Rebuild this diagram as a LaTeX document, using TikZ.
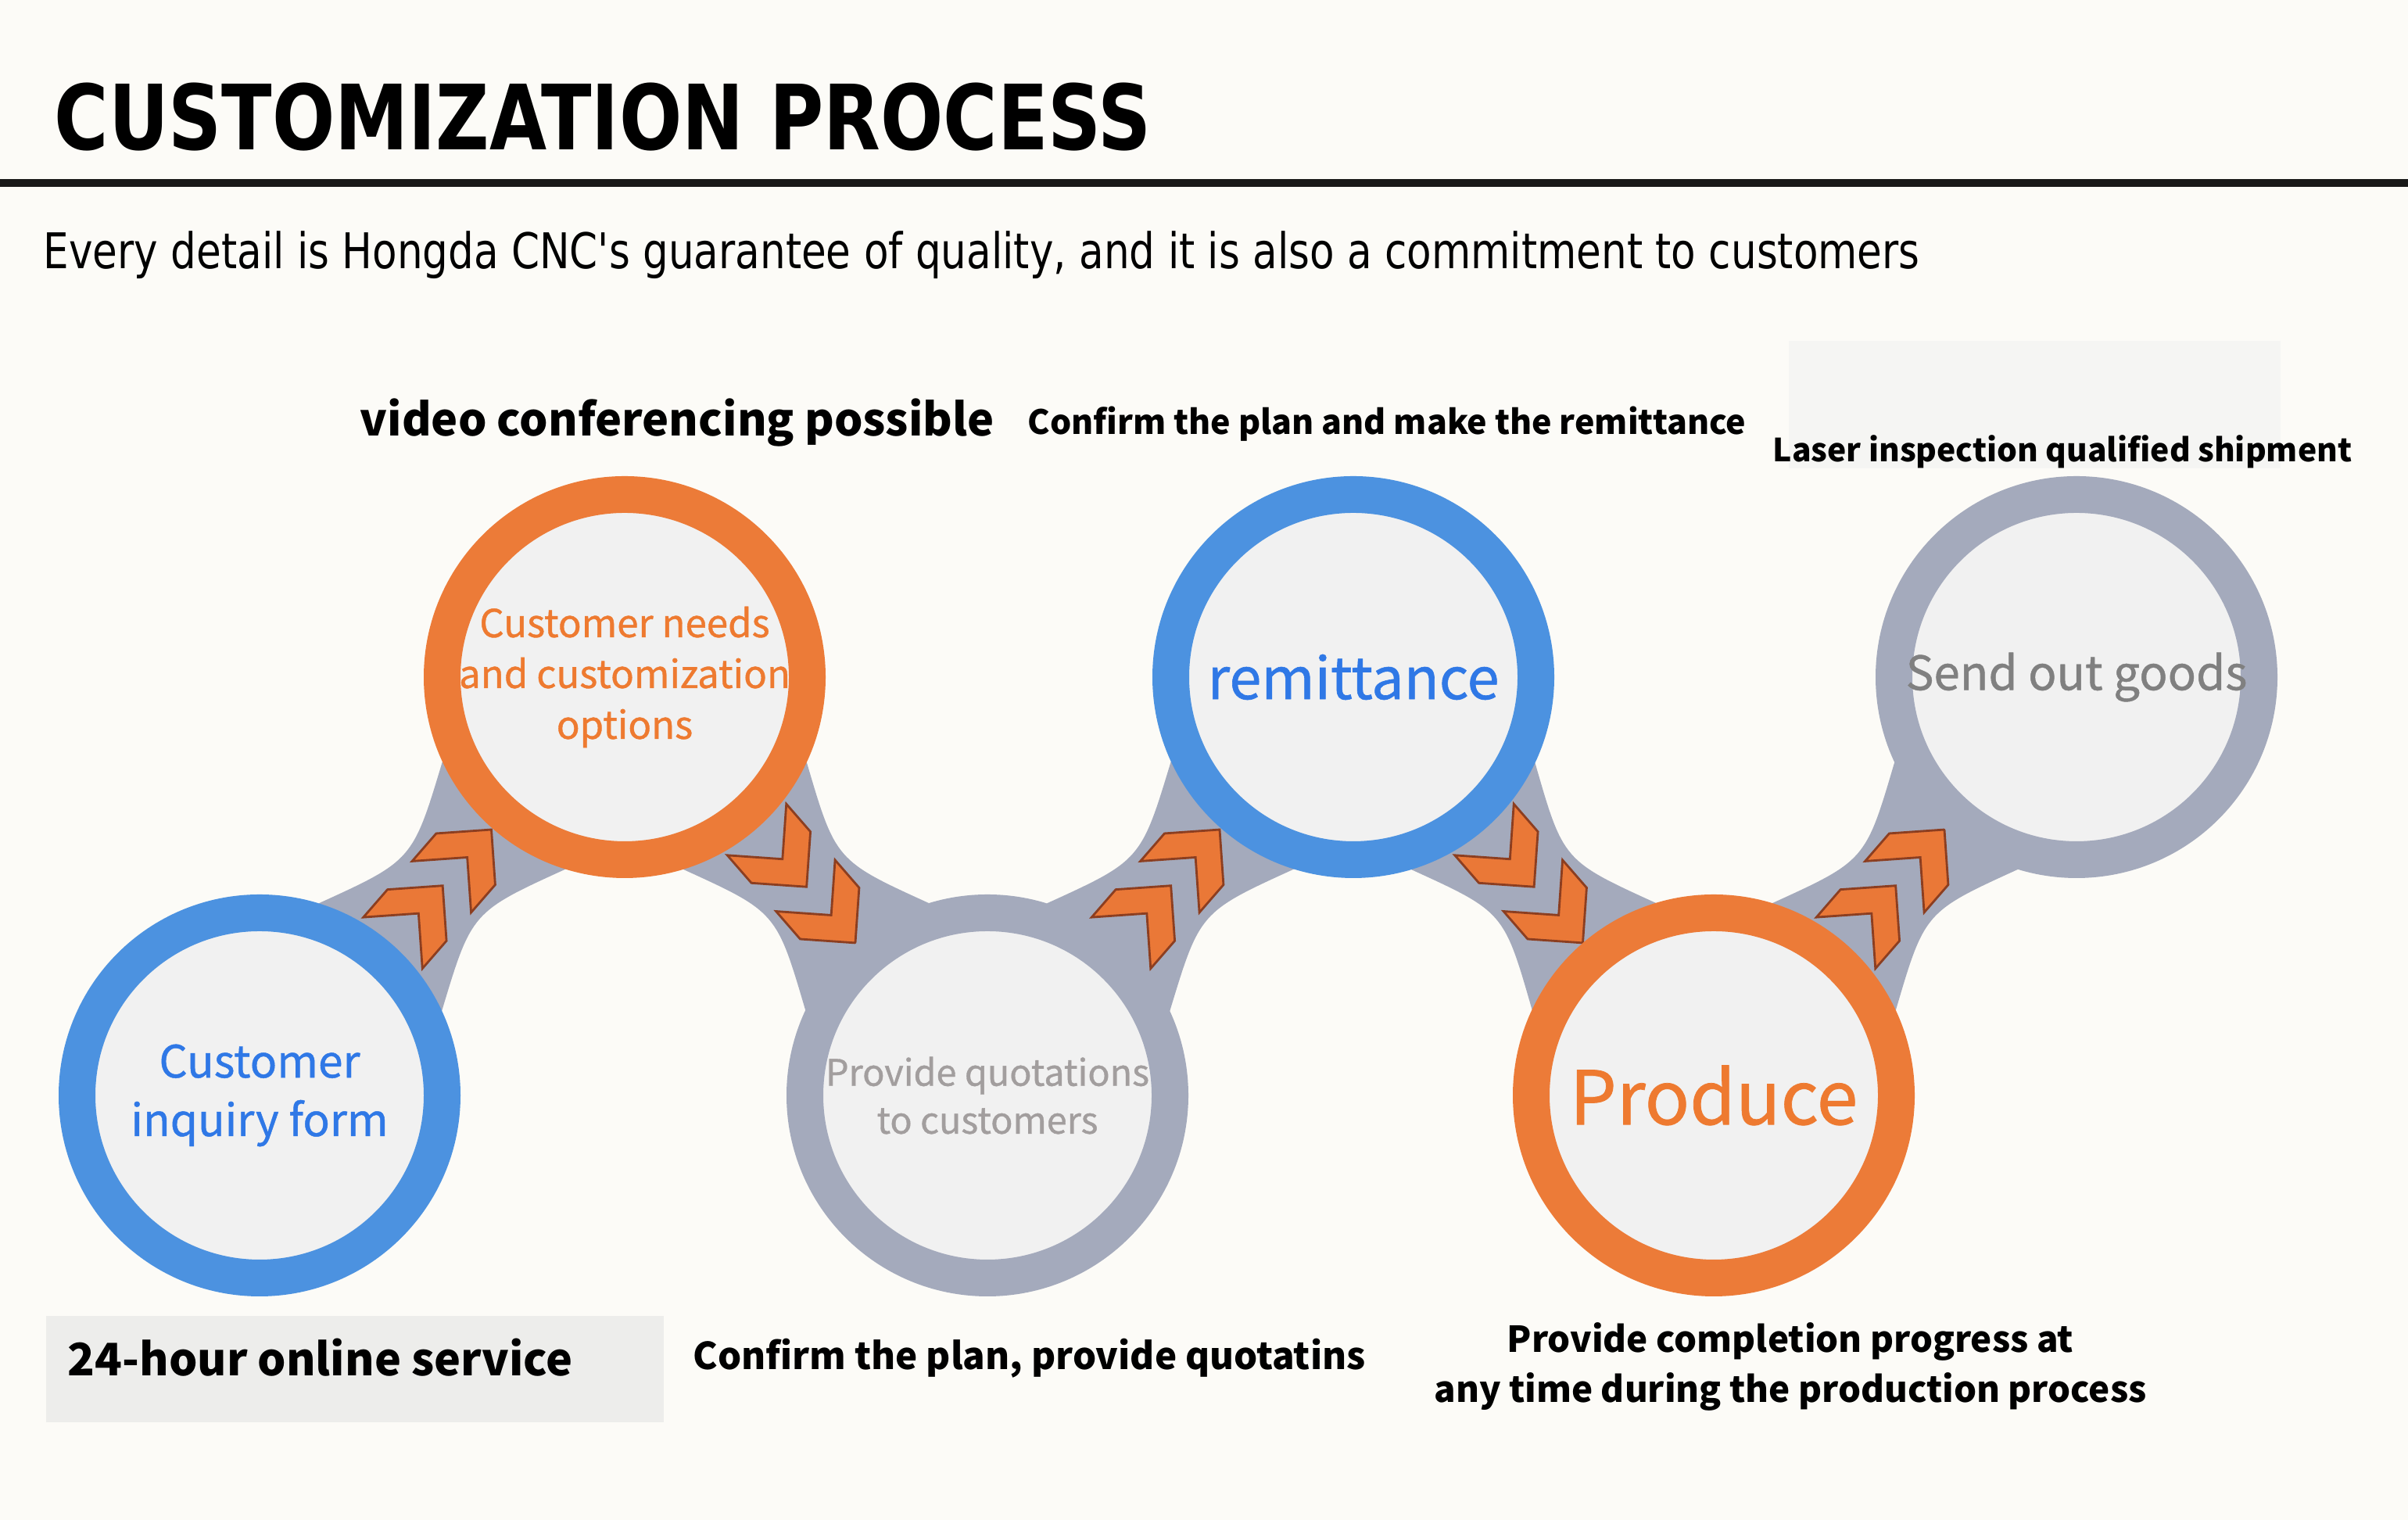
\documentclass[tikz,border=0pt]{standalone}
\usepackage{fontspec}
\setmainfont{Noto Sans CJK SC}
\newfontfamily\headfont{DejaVu Sans}[FakeStretch=0.82]
\newfontfamily\stagefont{Noto Sans CJK SC}[FakeBold=0.8]
\usetikzlibrary{calc}

\definecolor{bgC}{RGB}{252,251,247}
\definecolor{boxC}{RGB}{237,237,235}
\definecolor{faintC}{RGB}{245,245,243}
\definecolor{innerC}{RGB}{241,241,241}
\definecolor{neckC}{RGB}{164,170,188}
\definecolor{blueC}{RGB}{76,146,224}
\definecolor{orangeC}{RGB}{236,123,56}
\definecolor{grayC}{RGB}{164,170,188}
\definecolor{blueT}{RGB}{47,120,230}
\definecolor{orangeT}{RGB}{238,122,48}
\definecolor{grayT}{RGB}{162,158,158}
\definecolor{darkT}{RGB}{128,128,128}
\definecolor{chevC}{RGB}{234,120,55}
\definecolor{chevD}{RGB}{140,62,32}

\pgfdeclarelayer{back}
\pgfsetlayers{back,main}

\begin{document}
\begin{tikzpicture}[
    stage/.style={circle, minimum size=4.67cm, line width=0.47cm,
                  fill=innerC, align=center, inner sep=0pt},
    note/.style={anchor=base west, inner sep=0pt},
    chevpart/.style={fill=chevC, draw=chevD, line width=0.8pt},
    pics/chevrons/.style={code={
      \foreach \x in {0.96,0.01}
        \filldraw[chevpart] (\x,0) -- ++(-0.5,0.5) -- ++(-0.47,0) -- ++(0.5,-0.5)
          -- ++(-0.5,-0.5) -- ++(0.47,0) -- cycle;
    }}
  ]
  \useasboundingbox (0,0) rectangle (30.8,19.44);

  % Stages
  \node[stage, draw=blueC, text=blueT, font=\stagefont\fontsize{16.2}{21.3}\selectfont]
    (s1) at (3.32,5.43) {Customer\\inquiry form};
  \node[stage, draw=orangeC, text=orangeT, font=\stagefont\fontsize{14}{18.5}\selectfont]
    (s2) at (7.99,10.78) {Customer needs\\and customization\\options};
  \node[stage, draw=grayC, text=grayT, font=\stagefont\fontsize{13.3}{17.4}\selectfont]
    (s3) at (12.63,5.43) {Provide quotations\\to customers};
  \node[stage, draw=blueC, text=blueT, font=\stagefont\fontsize{21}{25}\selectfont]
    (s4) at (17.31,10.78) {remittance};
  \node[stage, draw=orangeC, text=orangeT, font=\stagefont\fontsize{27}{32}\selectfont]
    (s5) at (21.92,5.43) {Produce};
  \node[stage, draw=grayC, text=darkT, font=\stagefont\fontsize{17.1}{21}\selectfont]
    (s6) at (26.56,10.78) {Send out goods};

  % Background, necks and chevrons
  \begin{pgfonlayer}{back}
    \fill[bgC] (0,0) rectangle (30.8,19.44);
    \fill[faintC] (22.88,13.45) rectangle (29.17,15.08);
    \fill[boxC] (0.59,1.25) rectangle (8.49,2.61);
    \foreach \a/\b in {s1/s2,s2/s3,s3/s4,s4/s5,s5/s6}
      \fill[neckC] ($(\a.center)!2.57cm!24:(\b.center)$)
        .. controls ($(\a.center)!0.5!(\b.center)!0.5cm!90:(\b.center)$) ..
        ($(\b.center)!2.57cm!-24:(\a.center)$) -- ($(\b.center)!2.57cm!24:(\a.center)$)
        .. controls ($(\a.center)!0.5!(\b.center)!0.5cm!-90:(\b.center)$) ..
        ($(\a.center)!2.57cm!-24:(\b.center)$) -- cycle;
    \foreach \a/\b/\ang in {s1/s2/49,s2/s3/-49,s3/s4/49,s4/s5/-49,s5/s6/49}
      \path ($(\a.center)!0.5!(\b.center)$) pic[rotate=\ang] {chevrons};
  \end{pgfonlayer}

  % Heading
  \node[note, font=\headfont\bfseries\fontsize{32.8}{38}\selectfont]
    (title) at (0.69,17.52) {CUSTOMIZATION PROCESS};
  \draw[line width=2.6pt, black!90] (0,17.10) -- (30.8,17.10);
  \node[note, font=\headfont\fontsize{17.9}{21}\selectfont]
    (motto) at (0.55,16.00) {Every detail is Hongda CNC's guarantee of quality, and it is also a commitment to customers};

  % Notes
  \node[note, font=\bfseries\fontsize{16.35}{20}\selectfont]
    (n1) at (4.60,13.86) {video conferencing possible};
  \node[note, font=\bfseries\fontsize{12.2}{15}\selectfont]
    (n2) at (13.14,13.88) {Confirm the plan and make the remittance};
  \node[note, font=\bfseries\fontsize{11.6}{14}\selectfont]
    (n3) at (22.67,13.53) {Laser inspection qualified shipment};
  \node[note, font=\bfseries\fontsize{16.3}{20}\selectfont]
    (n4) at (0.86,1.84) {24-hour online service};
  \node[note, font=\bfseries\fontsize{13.5}{17}\selectfont]
    (n5) at (8.86,1.92) {Confirm the plan, provide quotatins};
  \node[align=center, inner sep=0pt, font=\bfseries\fontsize{13}{18.2}\selectfont]
    (n6) at (22.90,1.96) {Provide completion progress at\\any time during the production process};
\end{tikzpicture}
\end{document}
